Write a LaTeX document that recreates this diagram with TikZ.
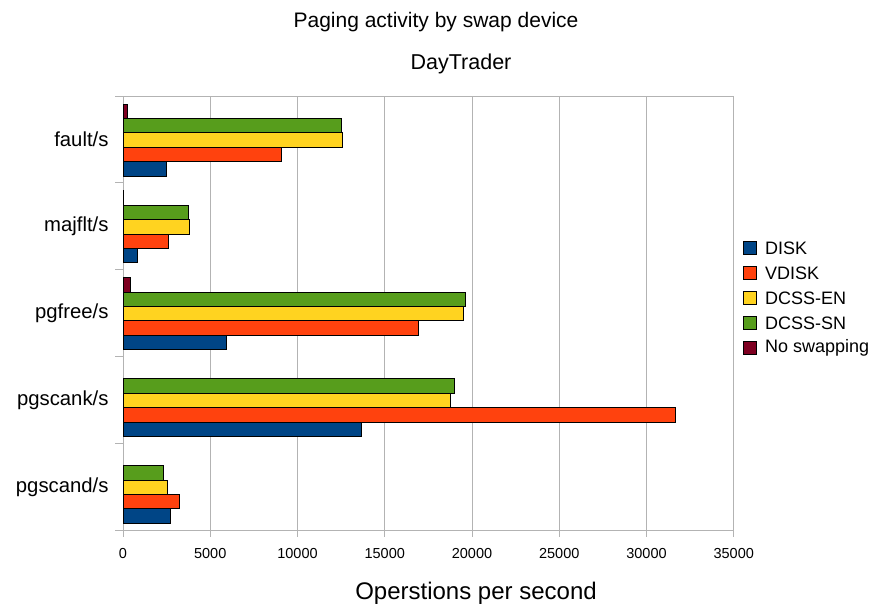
\documentclass[tikz,border=0pt]{standalone}
\usepackage{fontspec}
\setmainfont{Liberation Sans}
\definecolor{disk}{HTML}{004586}
\definecolor{vdisk}{HTML}{FF420E}
\definecolor{dcssen}{HTML}{FFD320}
\definecolor{dcsssn}{HTML}{579D1C}
\definecolor{noswap}{HTML}{7E0021}
\definecolor{gridgray}{HTML}{B3B3B3}
\tikzset{
    bar/.style={draw=black, line width=0.8pt},
    grid line/.style={draw=gridgray, line width=1pt},
    cat label/.style={anchor=east, font=\fontsize{20.3}{24}\selectfont},
    tick label/.style={font=\fontsize{14.5}{17}\selectfont},
    legend box/.style={draw=black, line width=0.6pt, minimum size=13pt, inner sep=0pt},
    legend text/.style={anchor=west, font=\fontsize{18}{21}\selectfont, inner sep=0pt}
}
\begin{document}
\begin{tikzpicture}[x=1pt, y=-1pt]
        \useasboundingbox (0,0) rectangle (872,605);

        % Titles
        \node[font=\fontsize{21}{25}\selectfont] (title) at (436,22) {Paging activity by swap device};
        \node[font=\fontsize{21.5}{25}\selectfont] (subtitle) at (461,64) {DayTrader};
        \node[font=\fontsize{24}{28}\selectfont] (xtitle) at (476,593) {Operstions per second};

        % Grid and axes
        \foreach \k in {1,...,7} {
            \draw[grid line] ({123+87.25*\k},96) -- ({123+87.25*\k},537);
        }
        \draw[grid line] (123,96) -- (734,96);
        \draw[grid line] (115,530) -- (734,530);
        \draw[grid line] (123,96) -- (123,537);
        \foreach \i in {0,...,5} {
            \draw[grid line] (115,{96+86.8*\i}) -- (123,{96+86.8*\i});
        }

        % Value labels
        \foreach \t [count=\k from 0] in {0,5000,10000,15000,20000,25000,30000,35000} {
            \node[tick label] (t\k) at ({123+87.25*\k},553) {\t};
        }

        % Category labels
        \node[cat label] (fault) at (112,139) {fault/s};
        \node[cat label] (majflt) at (112,226) {majflt/s};
        \node[cat label] (pgfree) at (112,313) {pgfree/s};
        \node[cat label] (pgscank) at (112,400) {pgscank/s};
        \node[cat label] (pgscand) at (112,487) {pgscand/s};

        % Bars (values in hundreds of operations per second)
        \foreach \i/\dsk/\vd/\en/\sn/\ns in {0/25.04/90.95/125.67/124.93/2.30,
                1/8.42/26.19/38.22/37.65/0.20, 2/59.20/169.23/195.24/195.99/4.01,
                3/136.39/316.50/187.79/189.86/0, 4/26.93/32.26/25.39/23.32/0} {
            \pgfmathsetmacro\ytop{96+86.8*\i}
            \foreach \v/\c [count=\j from 0] in {\ns/noswap, \sn/dcsssn, \en/dcssen, \vd/vdisk, \dsk/disk} {
                \ifdim\v pt>0pt
                    \draw[bar, fill=\c] (123,{\ytop+8+14.4*\j}) rectangle ({123+1.745*\v},{\ytop+22.4+14.4*\j});
                \fi
            }
        }

        % Legend
        \foreach \lab/\c [count=\r from 0] in {DISK/disk, VDISK/vdisk, DCSS-EN/dcssen, DCSS-SN/dcsssn, No swapping/noswap} {
            \node[legend box, fill=\c] (box\r) at (749.5,{248+25*\r}) {};
            \node[legend text] (leg\r) at (765,{248+25*\r}) {\lab};
        }
    \end{tikzpicture}
\end{document}
